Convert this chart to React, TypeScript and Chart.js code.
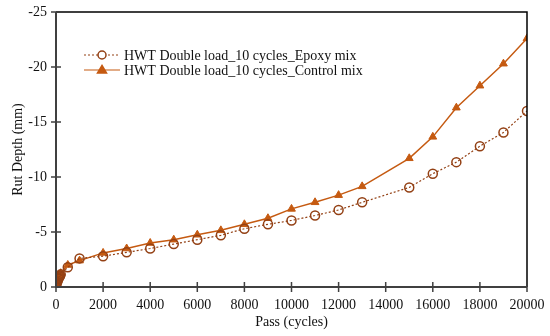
import React, { useEffect, useRef } from "react";
import { Chart, registerables } from "chart.js";

Chart.register(...registerables);

const passes = [0, 25, 50, 75, 100, 125, 150, 175, 200, 500, 1000, 2000, 3000, 4000, 5000, 6000, 7000, 8000, 9000, 10000, 11000, 12000, 13000, 15000, 16000, 17000, 18000, 19000, 20000];
const epoxyRut = [0, -0.25, -0.45, -0.6, -0.75, -0.85, -0.95, -1.05, -1.15, -1.8, -2.6, -2.8, -3.15, -3.5, -3.9, -4.3, -4.7, -5.3, -5.7, -6.05, -6.5, -7.0, -7.7, -9.05, -10.3, -11.35, -12.8, -14.05, -16.0];
const controlRut = [0, -0.3, -0.5, -0.7, -0.85, -0.95, -1.05, -1.15, -1.25, -2.0, -2.4, -3.1, -3.5, -4.0, -4.3, -4.75, -5.15, -5.7, -6.25, -7.1, -7.7, -8.35, -9.15, -11.7, -13.65, -16.3, -18.3, -20.3, -22.6];
const xTicks = [0, 2000, 4000, 6000, 8000, 10000, 12000, 14000, 16000, 18000, 20000];
const yTicks = [-25, -20, -15, -10, -5, 0];
const seriesNames = ["HWT Double load_10 cycles_Epoxy mix", "HWT Double load_10 cycles_Control mix"];

const FONT = "'Liberation Serif', 'Times New Roman', serif";
const EPOXY = "#934014";
const CONTROL = "#c55a11";

const framePlugin = {
  id: "frame",
  afterDatasetsDraw(chart: any) {
    const { ctx, chartArea: a, scales } = chart;
    ctx.save();
    ctx.strokeStyle = "#000";
    ctx.lineWidth = 1.5;
    ctx.beginPath();
    ctx.moveTo(a.left, a.top);
    ctx.lineTo(a.right, a.top);
    ctx.lineTo(a.right, a.bottom);
    ctx.stroke();
    ctx.strokeStyle = "#404040";
    ctx.lineWidth = 2;
    ctx.beginPath();
    ctx.moveTo(a.left, a.top);
    ctx.lineTo(a.left, a.bottom);
    ctx.lineTo(a.right, a.bottom);
    ctx.stroke();
    ctx.lineWidth = 1.5;
    ctx.beginPath();
    xTicks.forEach((v) => {
      const px = scales.x.getPixelForValue(v);
      ctx.moveTo(px, a.bottom - 5);
      ctx.lineTo(px, a.bottom + 5);
    });
    yTicks.forEach((v) => {
      const py = scales.y.getPixelForValue(v);
      ctx.moveTo(a.left - 5, py);
      ctx.lineTo(a.left + 5, py);
    });
    ctx.stroke();
    ctx.restore();
  },
  afterDraw(chart: any) {
    const { ctx } = chart;
    ctx.save();
    const rows = [
      { y: 55, color: EPOXY, dash: [2, 2], style: "circle", fill: "#fff" },
      { y: 70, color: CONTROL, dash: [], style: "triangle", fill: CONTROL },
    ];
    rows.forEach((r, i) => {
      ctx.strokeStyle = r.color;
      ctx.lineWidth = 1.2;
      ctx.setLineDash(r.dash);
      ctx.beginPath();
      ctx.moveTo(84, r.y);
      ctx.lineTo(120, r.y);
      ctx.stroke();
      ctx.setLineDash([]);
      ctx.lineWidth = 1.5;
      ctx.fillStyle = r.fill;
      ctx.beginPath();
      if (r.style === "circle") {
        ctx.arc(102, r.y, 4, 0, Math.PI * 2);
      } else {
        ctx.moveTo(102, r.y - 4.5);
        ctx.lineTo(106.5, r.y + 3);
        ctx.lineTo(97.5, r.y + 3);
        ctx.closePath();
      }
      ctx.fill();
      ctx.stroke();
      ctx.fillStyle = "#111";
      ctx.font = `14px ${FONT}`;
      ctx.textBaseline = "middle";
      ctx.textAlign = "left";
      ctx.fillText(seriesNames[i], 124, r.y + 1);
    });
    ctx.restore();
  },
};

function zeroPad(s: any) {
  s.paddingTop = 0;
  s.paddingBottom = 0;
  s.paddingLeft = 0;
  s.paddingRight = 0;
}

export default function App() {
  const ref = useRef<HTMLCanvasElement | null>(null);
  useEffect(() => {
    document.body.style.margin = "0";
    const canvas = ref.current!;
    const chart = new Chart(canvas, {
      type: "line",
      data: {
        datasets: [
          {
            label: seriesNames[0],
            data: passes.map((x, i) => ({ x, y: epoxyRut[i] })),
            borderColor: EPOXY,
            borderWidth: 1.2,
            borderDash: [2, 2],
            pointStyle: "circle",
            pointRadius: 4.5,
            pointBorderWidth: 1.5,
            pointBorderColor: EPOXY,
            pointBackgroundColor: "rgba(255,255,255,0)",
            tension: 0,
          },
          {
            label: seriesNames[1],
            data: passes.map((x, i) => ({ x, y: controlRut[i] })),
            borderColor: CONTROL,
            borderWidth: 1.5,
            pointStyle: "triangle",
            pointRadius: 4.5,
            pointBorderWidth: 1,
            pointBorderColor: CONTROL,
            pointBackgroundColor: CONTROL,
            tension: 0,
          },
        ],
      },
      options: {
        animation: false,
        responsive: false,
        layout: { padding: { top: 12, right: 23, left: 0, bottom: 0 } },
        plugins: { legend: { display: false }, tooltip: { enabled: false } },
        scales: {
          x: {
            type: "linear",
            min: 0,
            max: 20000,
            afterBuildTicks: (s: any) => {
              s.ticks = xTicks.map((v) => ({ value: v }));
            },
            afterFit: (s: any) => {
              s.height = 49;
              zeroPad(s);
            },
            grid: { display: false, drawTicks: false },
            border: { display: false },
            ticks: { color: "#111", font: { family: FONT, size: 14 }, padding: 10, maxRotation: 0, autoSkip: false, callback: (v: any) => String(v) },
            title: { display: true, text: "Pass (cycles)", color: "#111", font: { family: FONT, size: 14 }, padding: { top: 0, bottom: 5 } },
          },
          y: {
            type: "linear",
            min: -25,
            max: 0,
            reverse: true,
            afterBuildTicks: (s: any) => {
              s.ticks = yTicks.map((v) => ({ value: v }));
            },
            afterFit: (s: any) => {
              s.width = 56;
              zeroPad(s);
            },
            grid: { display: false, drawTicks: false },
            border: { display: false },
            ticks: { color: "#111", font: { family: FONT, size: 14 }, padding: 9, callback: (v: any) => String(v) },
            title: { display: true, text: "Rut Depth (mm)", color: "#111", font: { family: FONT, size: 14 }, padding: { top: 10, bottom: 0 } },
          },
        },
      },
      plugins: [framePlugin],
    } as any);
    return () => chart.destroy();
  }, []);
  return <canvas ref={ref} width={550} height={336} style={{ display: "block" }} />;
}
